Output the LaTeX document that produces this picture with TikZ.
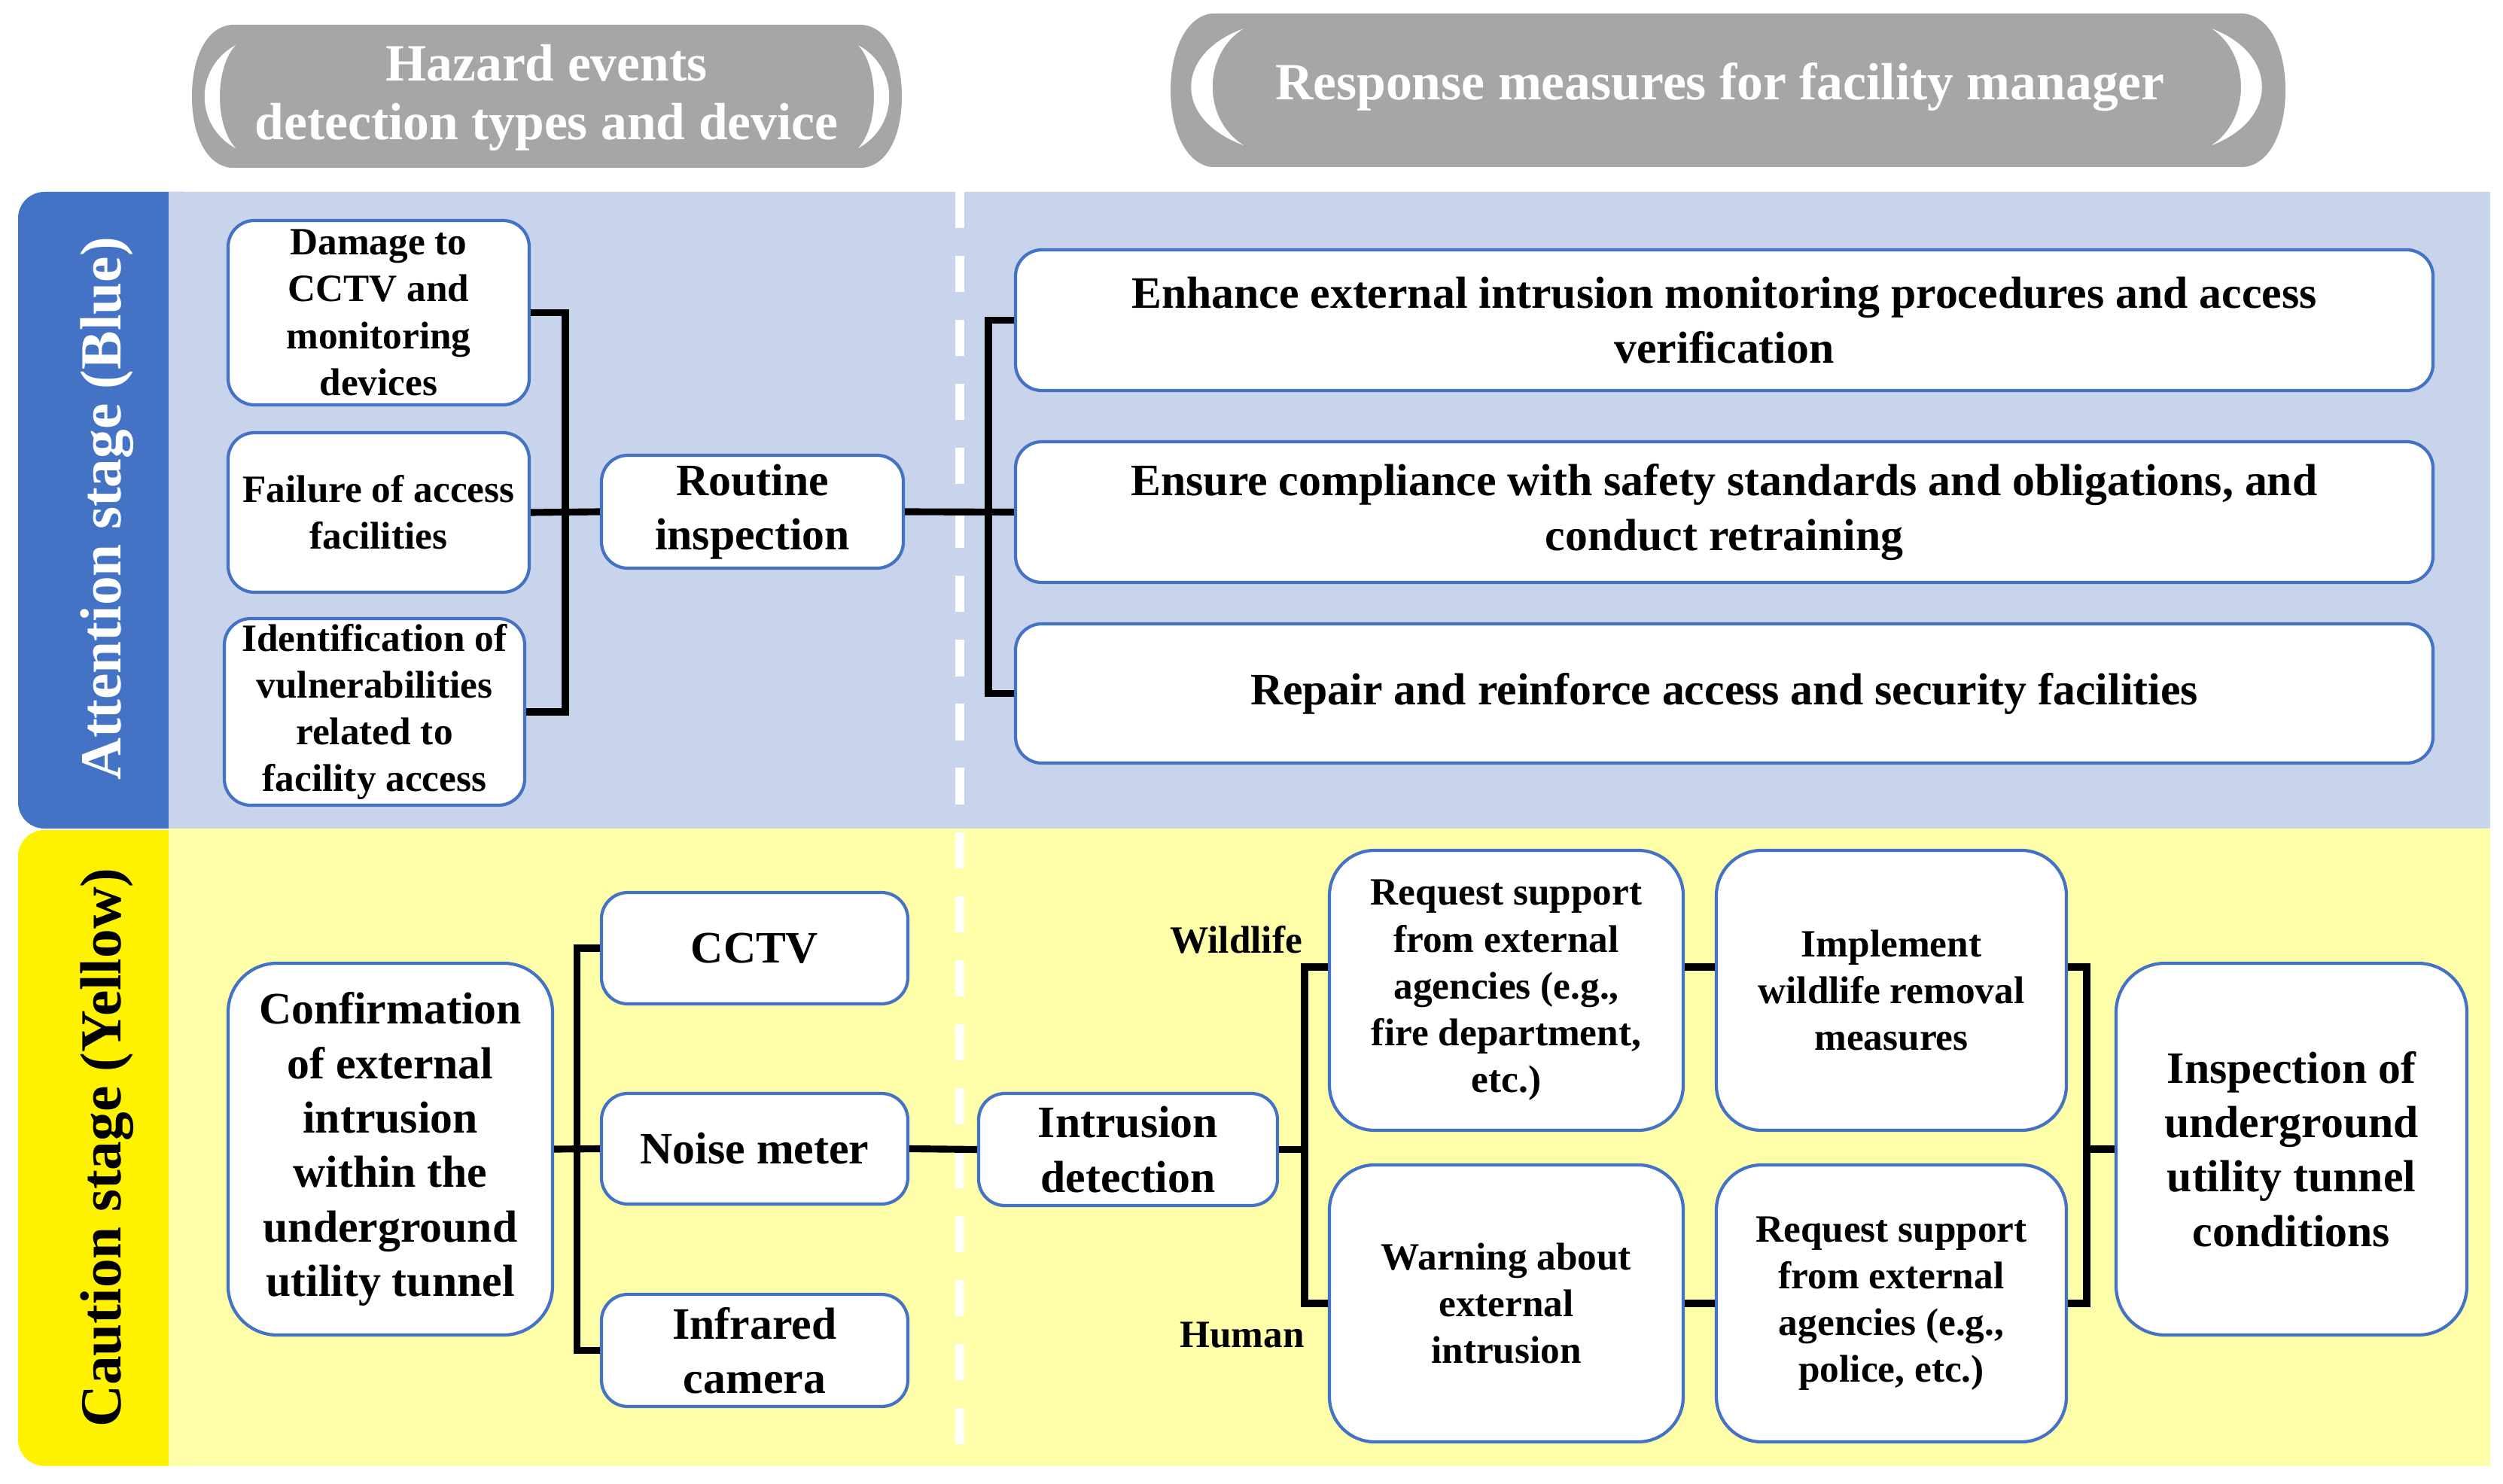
\documentclass[tikz,border=0pt]{standalone}
\usepackage{fontspec}
\setmainfont{Liberation Serif}
\usepackage{tikz}
\usetikzlibrary{calc,positioning}
\definecolor{pillgray}{HTML}{A6A6A6}
\definecolor{stageblue}{HTML}{4472C4}
\definecolor{paleblue}{HTML}{C7D4EC}
\definecolor{paleyellow}{HTML}{FFFFAA}
\definecolor{boxblue}{HTML}{4472C4}

\begin{document}
\begin{tikzpicture}[
  box/.style={draw=boxblue, line width=1.2pt, fill=white, rounded corners=0.35cm, align=center, inner sep=1pt, font=\bfseries\fontsize{17}{20.6}\selectfont},
  smallbox/.style={box, font=\bfseries\fontsize{14.6}{17.7}\selectfont},
  link/.style={line width=2.6pt, black},
  lbl/.style={font=\bfseries\fontsize{14.6}{17.7}\selectfont},
  stagelbl/.style={rotate=90, font=\bfseries\fontsize{22}{26}\selectfont},
  pilltext/.style={text=white, align=center, font=\bfseries\fontsize{19.8}{22.2}\selectfont}
]
        \useasboundingbox (0,0) rectangle (33.25,-19.72);
        % Draw the header pills
        \fill[pillgray] (3.07,-0.33) -- (11.46,-0.33) .. controls (11.78,-0.36) and (11.98,-0.75) .. (11.98,-1.28) .. controls (11.98,-1.81) and (11.78,-2.20) .. (11.46,-2.23) -- (3.07,-2.23) .. controls (2.75,-2.20) and (2.55,-1.81) .. (2.55,-1.28) .. controls (2.55,-0.75) and (2.75,-0.36) .. (3.07,-0.33) -- cycle;
        \fill[white] (3.13,-0.60) .. controls (2.58,-0.90) and (2.58,-1.67) .. (3.13,-1.97) .. controls (2.85,-1.67) and (2.85,-0.90) .. (3.13,-0.60) -- cycle;
        \fill[white] (11.40,-0.60) .. controls (11.95,-0.90) and (11.95,-1.67) .. (11.40,-1.97) .. controls (11.68,-1.67) and (11.68,-0.90) .. (11.40,-0.60) -- cycle;
        \fill[pillgray] (16.10,-0.18) -- (29.80,-0.18) .. controls (30.15,-0.21) and (30.36,-0.65) .. (30.36,-1.20) .. controls (30.36,-1.75) and (30.15,-2.19) .. (29.80,-2.22) -- (16.10,-2.22) .. controls (15.77,-2.19) and (15.55,-1.75) .. (15.55,-1.20) .. controls (15.55,-0.65) and (15.77,-0.21) .. (16.10,-0.18) -- cycle;
        \fill[white] (16.52,-0.38) .. controls (15.59,-0.72) and (15.59,-1.59) .. (16.52,-1.93) .. controls (15.97,-1.59) and (15.97,-0.72) .. (16.52,-0.38) -- cycle;
        \fill[white] (29.38,-0.38) .. controls (30.27,-0.72) and (30.27,-1.59) .. (29.38,-1.93) .. controls (29.90,-1.59) and (29.90,-0.72) .. (29.38,-0.38) -- cycle;
        \node[pilltext] (hazard) at (7.26,-1.30) {Hazard events\\detection types and device};
        \node[pilltext] (resp) at (22.85,-1.16) {Response measures for facility manager};
        % Draw the stage bands
        \fill[stageblue, rounded corners=0.35cm] (0.24,-2.55) rectangle (2.80,-11.01);
        \fill[paleblue] (2.24,-2.55) rectangle (33.08,-11.01);
        \fill[yellow, rounded corners=0.35cm] (0.24,-11.03) rectangle (2.80,-19.48);
        \fill[paleyellow] (2.24,-11.01) rectangle (33.08,-19.48);
        \draw[white, line width=3.5pt, dash pattern=on 13.7pt off 10.5pt] (12.75,-2.55) -- (12.75,-19.45);
        \node[stagelbl, text=white] (attention) at (1.42,-6.76) {Attention stage (Blue)};
        \node[stagelbl] (caution) at (1.42,-15.25) {Caution stage (Yellow)};
        % Attention stage boxes
        \node[smallbox, minimum width=4.00cm, minimum height=2.45cm] (dmg) at (5.03,-4.155) {Damage to\\CCTV and\\monitoring\\devices};
        \node[smallbox, minimum width=4.00cm, minimum height=2.12cm] (fail) at (5.03,-6.81) {Failure of access\\facilities};
        \node[smallbox, minimum width=3.99cm, minimum height=2.48cm] (ident) at (4.975,-9.46) {Identification of\\vulnerabilities\\related to\\facility access};
        \node[box, minimum width=4.01cm, minimum height=1.50cm] (routine) at (9.995,-6.80) {Routine\\inspection};
        \node[box, minimum width=18.83cm, minimum height=1.87cm] (enh) at (22.905,-4.255) {Enhance external intrusion monitoring procedures and access\\verification};
        \node[box, minimum width=18.83cm, minimum height=1.87cm] (ens) at (22.905,-6.805) {Ensure compliance with safety standards and obligations, and\\conduct retraining};
        \node[box, minimum width=18.83cm, minimum height=1.85cm] (rep) at (22.905,-9.215) {Repair and reinforce access and security facilities};
        % Caution stage boxes
        \node[box, rounded corners=0.65cm, minimum width=4.31cm, minimum height=4.94cm] (conf) at (5.185,-15.27) {Confirmation\\of external\\intrusion\\within the\\underground\\utility tunnel};
        \node[box, minimum width=4.07cm, minimum height=1.48cm] (cctv) at (10.025,-12.60) {CCTV};
        \node[box, minimum width=4.07cm, minimum height=1.47cm] (noise) at (10.025,-15.265) {Noise meter};
        \node[box, minimum width=4.07cm, minimum height=1.49cm] (ir) at (10.025,-17.945) {Infrared\\camera};
        \node[box, minimum width=3.97cm, minimum height=1.49cm] (intr) at (14.985,-15.275) {Intrusion\\detection};
        \node[smallbox, rounded corners=0.6cm, minimum width=4.70cm, minimum height=3.72cm] (reqa) at (20.01,-13.16) {Request support\\from external\\agencies (e.g.,\\fire department,\\etc.)};
        \node[smallbox, rounded corners=0.6cm, minimum width=4.65cm, minimum height=3.72cm] (impl) at (25.125,-13.16) {Implement\\wildlife removal\\measures};
        \node[smallbox, rounded corners=0.6cm, minimum width=4.70cm, minimum height=3.68cm] (warn) at (20.01,-17.32) {Warning about\\external\\intrusion};
        \node[smallbox, rounded corners=0.6cm, minimum width=4.65cm, minimum height=3.68cm] (reqb) at (25.125,-17.32) {Request support\\from external\\agencies (e.g.,\\police, etc.)};
        \node[box, rounded corners=0.65cm, minimum width=4.66cm, minimum height=4.94cm] (insp) at (30.44,-15.27) {Inspection of\\underground\\utility tunnel\\conditions};
        \node[lbl] (wild) at (16.42,-12.49) {Wildlife};
        \node[lbl] (human) at (16.50,-17.74) {Human};
        % Connectors (attention)
        \draw[link] (dmg.east) -| ($(fail.east)!0.5!(routine.west)$) |- (ident.east);
        \draw[link] (fail.east) -- (routine.west);
        \coordinate (jb) at (13.13,-6.805);
        \draw[link] (routine.east) -- (ens.west);
        \draw[link] (enh.west) -| (jb) |- (rep.west);
        % Connectors (caution)
        \draw[link] (cctv.west) -| ($(conf.east)!0.5!(noise.west)$) |- (ir.west);
        \draw[link] (conf.east) -- (noise.west);
        \draw[link] (noise.east) -- (intr.west);
        \coordinate (jc) at (17.33,-15.275);
        \draw[link] (intr.east) -- (jc);
        \draw[link] ([yshift=0.31cm]reqa.west) -| (jc) |- (warn.west);
        \draw[link] ([yshift=0.31cm]reqa.east) -- ([yshift=0.31cm]impl.west);
        \draw[link] (warn.east) -- (reqb.west);
        \coordinate (jd) at (27.72,-15.27);
        \draw[link] ([yshift=0.31cm]impl.east) -| (jd) |- (reqb.east);
        \draw[link] (jd) -- (insp.west);
\end{tikzpicture}
\end{document}
